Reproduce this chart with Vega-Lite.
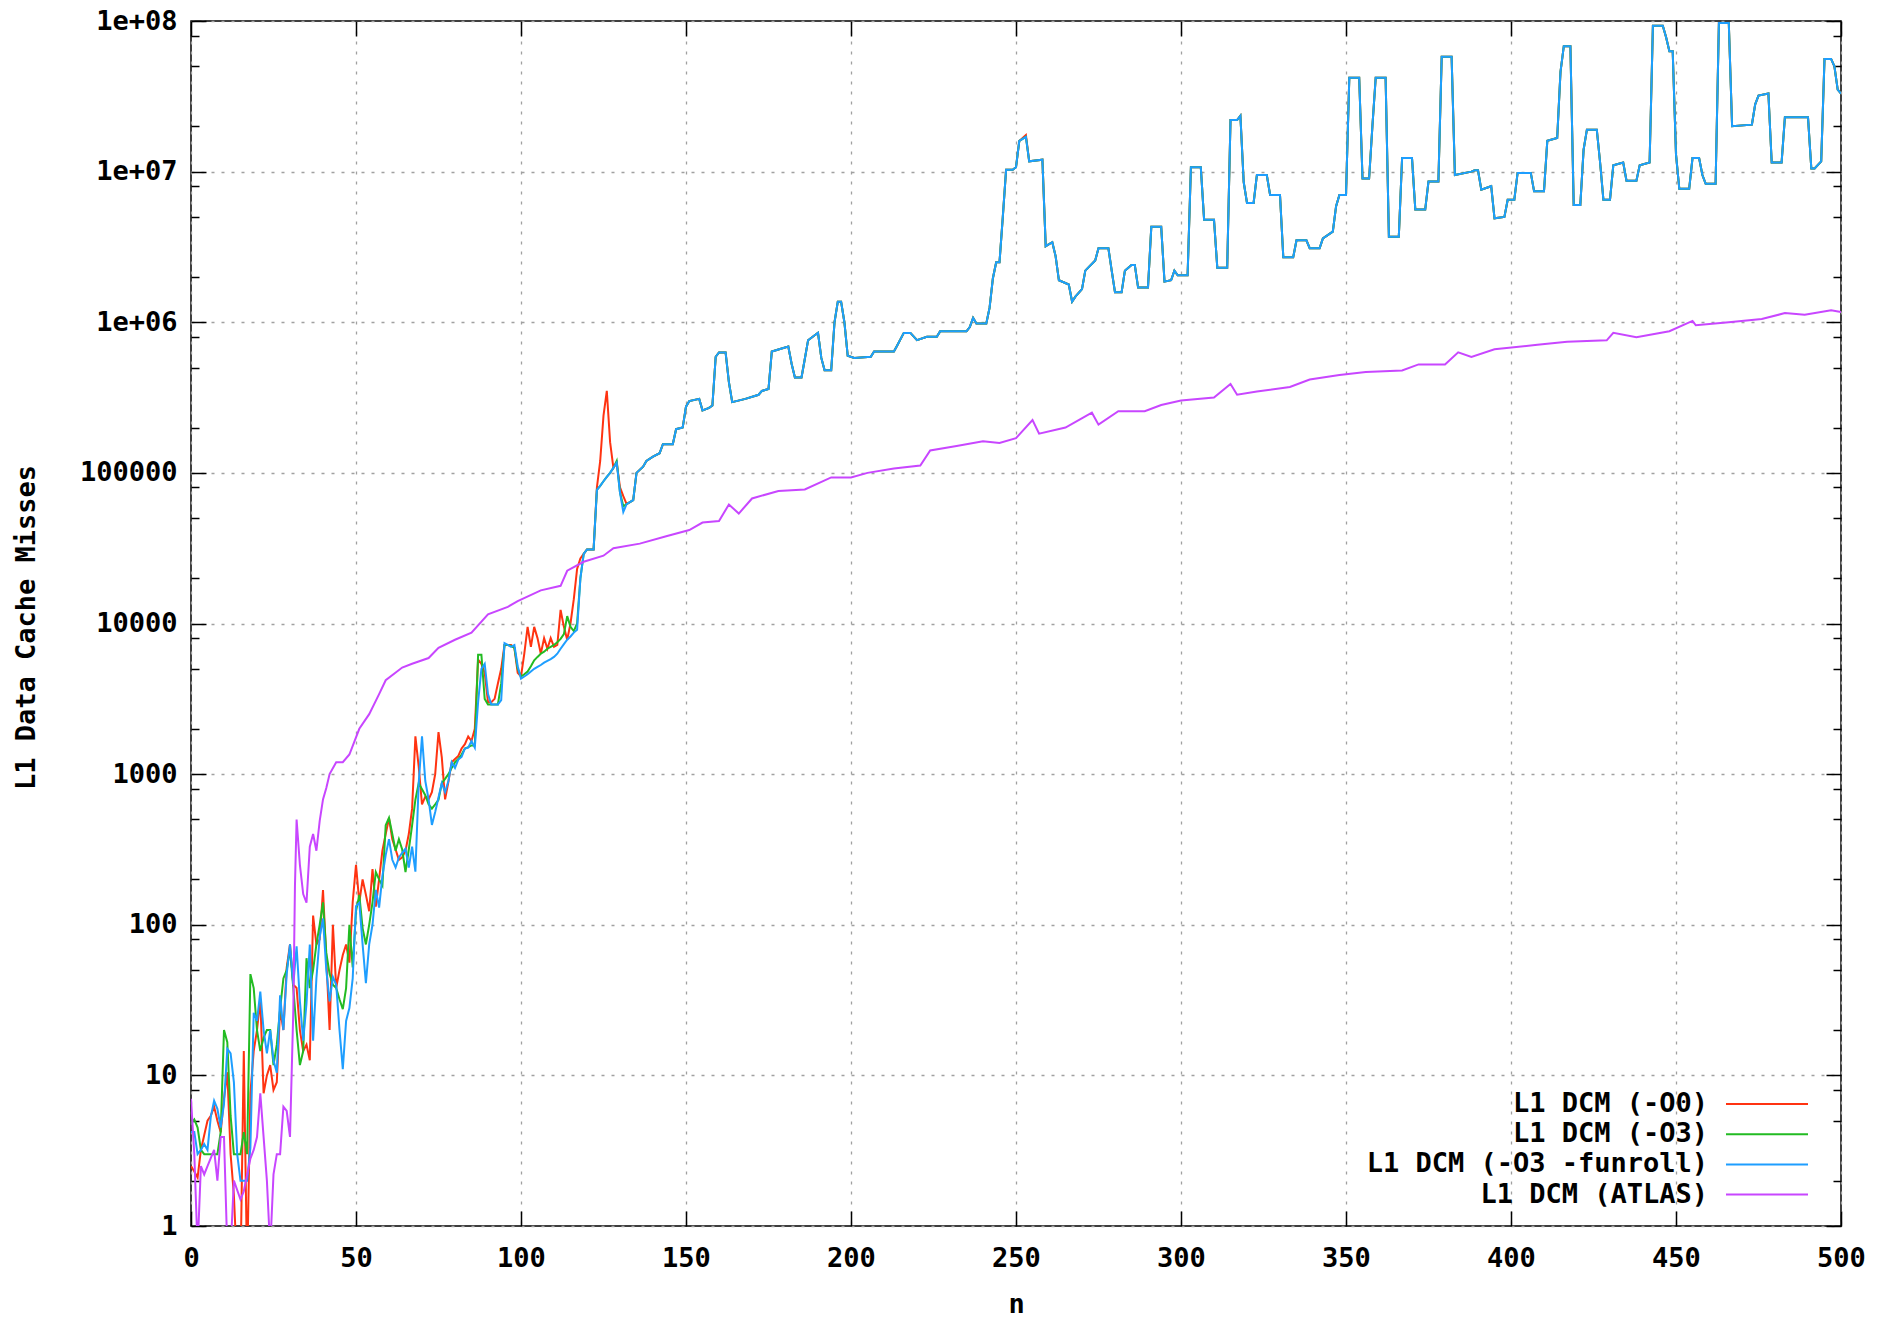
{
"$schema": "https://vega.github.io/schema/vega-lite/v6.json",
"width": 1650, "height": 1205,
"autosize": "none",
"padding": {"left": 191, "top": 21, "right": 38, "bottom": 91},
"background": "white",
"config": {"view": {"stroke": "black", "strokeWidth": 1.5}, "font": "DejaVu Sans Mono"},
"datasets": {
"main": [
{"n":0,"o0":2.5,"o3":4.8,"fu":4.2},{"n":1,"o0":2.3,"o3":5.1,"fu":4.2},{"n":2,"o0":2.1,"o3":4.5,"fu":3},{"n":3,"o0":3.2,"o3":3.2,"fu":3.2},{"n":4,"o0":4,"o3":3,"fu":3.5},{"n":5,"o0":5,"o3":3,"fu":3.2},{"n":6,"o0":5.4,"o3":3,"fu":5.3},{"n":7,"o0":6.2,"o3":3,"fu":6.8},{"n":8,"o0":5,"o3":3,"fu":6},{"n":9,"o0":4.2,"o3":4.2,"fu":4.5},
{"n":10,"o0":7,"o3":20,"fu":6.5},{"n":11,"o0":10.5,"o3":16.6,"fu":15},{"n":12,"o0":3,"o3":5.4,"fu":14},{"n":13,"o0":1.6,"o3":3,"fu":9},{"n":14,"o0":0.5,"o3":3,"fu":3},{"n":15,"o0":0.5,"o3":3,"fu":2},{"n":16,"o0":14.5,"o3":4.2,"fu":2},{"n":17,"o0":0.5,"o3":3,"fu":2},{"n":18,"o0":7.6,"o3":47,"fu":3.3},{"n":19,"o0":14.5,"o3":38,"fu":26},
{"n":20,"o0":20,"o3":20,"fu":23},{"n":21,"o0":32,"o3":14.5,"fu":36},{"n":22,"o0":7.6,"o3":17.8,"fu":20},{"n":23,"o0":10,"o3":20,"fu":14},{"n":24,"o0":11.7,"o3":20,"fu":20},{"n":25,"o0":8,"o3":11.7,"fu":12.6},{"n":26,"o0":9,"o3":16,"fu":10.4},{"n":27,"o0":27.5,"o3":27.5,"fu":34},{"n":28,"o0":20,"o3":44,"fu":20},{"n":29,"o0":52,"o3":50,"fu":47},
{"n":30,"o0":74,"o3":69,"fu":74},{"n":31,"o0":40,"o3":38,"fu":40},{"n":32,"o0":38,"o3":20,"fu":72},{"n":33,"o0":20,"o3":11.7,"fu":31},{"n":34,"o0":14.5,"o3":14.5,"fu":17},{"n":35,"o0":16,"o3":60,"fu":30},{"n":36,"o0":12.6,"o3":38,"fu":74},{"n":37,"o0":115,"o3":50,"fu":17},{"n":38,"o0":74,"o3":74,"fu":44},{"n":39,"o0":80,"o3":100,"fu":83},
{"n":40,"o0":170,"o3":141,"fu":110},{"n":41,"o0":60,"o3":65,"fu":50},{"n":42,"o0":20,"o3":47,"fu":31},{"n":43,"o0":100,"o3":40,"fu":45},{"n":44,"o0":38,"o3":38,"fu":40},{"n":45,"o0":50,"o3":32,"fu":20},{"n":46,"o0":63,"o3":27.5,"fu":11},{"n":47,"o0":74,"o3":38,"fu":23},{"n":48,"o0":56,"o3":100,"fu":28},{"n":49,"o0":141,"o3":52,"fu":44},
{"n":50,"o0":250,"o3":123,"fu":133},{"n":51,"o0":141,"o3":158,"fu":140},{"n":52,"o0":200,"o3":95,"fu":74},{"n":53,"o0":158,"o3":74,"fu":41},{"n":54,"o0":123,"o3":100,"fu":74},{"n":55,"o0":234,"o3":141,"fu":100},{"n":56,"o0":132,"o3":224,"fu":170},{"n":57,"o0":200,"o3":200,"fu":130},{"n":58,"o0":310,"o3":182,"fu":210},{"n":59,"o0":400,"o3":457,"fu":290},
{"n":60,"o0":510,"o3":513,"fu":370},{"n":61,"o0":370,"o3":400,"fu":270},{"n":62,"o0":316,"o3":310,"fu":240},{"n":63,"o0":270,"o3":370,"fu":280},{"n":64,"o0":280,"o3":316,"fu":300},{"n":65,"o0":310,"o3":224,"fu":320},{"n":66,"o0":400,"o3":316,"fu":240},{"n":67,"o0":590,"o3":457,"fu":330},{"n":68,"o0":1780,"o3":676,"fu":225},{"n":69,"o0":1120,"o3":870,"fu":870},
{"n":70,"o0":630,"o3":794,"fu":1780},{"n":71,"o0":710,"o3":724,"fu":900},{"n":72,"o0":680,"o3":630,"fu":680},{"n":73,"o0":760,"o3":590,"fu":460},{"n":74,"o0":1000,"o3":630,"fu":560},{"n":75,"o0":1900,"o3":676,"fu":700},{"n":76,"o0":1290,"o3":870,"fu":870},{"n":77,"o0":680,"o3":930,"fu":760},{"n":78,"o0":890,"o3":1000,"fu":900},{"n":79,"o0":1200,"o3":1100,"fu":1200},
{"n":80,"o0":1260,"o3":1200,"fu":1100},{"n":81,"o0":1320,"o3":1260,"fu":1250},{"n":82,"o0":1480,"o3":1350,"fu":1300},{"n":83,"o0":1580,"o3":1480,"fu":1480},{"n":84,"o0":1780,"o3":1510,"fu":1500},{"n":85,"o0":1660,"o3":1550,"fu":1660},{"n":86,"o0":2000,"o3":1550,"fu":1500},{"n":87,"o0":5750,"o3":6200,"fu":3000},{"n":88,"o0":5400,"o3":6200,"fu":5000},{"n":89,"o0":4700,"o3":3160,"fu":5400},
{"n":90,"o0":3000,"o3":2900,"fu":3400},{"n":91,"o0":3000,"o3":2900,"fu":2900},{"n":92,"o0":3160,"o3":2900,"fu":2900},{"n":93,"o0":4000,"o3":2900,"fu":2900},{"n":94,"o0":5000,"o3":4000,"fu":3100},{"n":95,"o0":7200,"o3":7200,"fu":7400},{"n":96,"o0":7200,"o3":7200,"fu":7200},{"n":97,"o0":7200,"o3":7100,"fu":7000},{"n":98,"o0":6900,"o3":6900,"fu":7200},{"n":99,"o0":4700,"o3":5000,"fu":5200},
{"n":100,"o0":4450,"o3":4450,"fu":4300},{"n":101,"o0":6300,"o3":4600,"fu":4450},{"n":102,"o0":9500,"o3":4800,"fu":4600},{"n":103,"o0":7000,"o3":5200,"fu":4800},{"n":104,"o0":9500,"o3":5700,"fu":5000},{"n":105,"o0":8000,"o3":6000,"fu":5150},{"n":106,"o0":6300,"o3":6300,"fu":5300},{"n":107,"o0":8000,"o3":6500,"fu":5500},{"n":108,"o0":6800,"o3":6800,"fu":5650},{"n":109,"o0":8000,"o3":7000,"fu":5800},
{"n":110,"o0":7000,"o3":7200,"fu":6000},{"n":111,"o0":7200,"o3":7500,"fu":6300},{"n":112,"o0":12300,"o3":7900,"fu":6800},{"n":113,"o0":9500,"o3":8500,"fu":7300},{"n":114,"o0":7800,"o3":11200,"fu":7800},{"n":115,"o0":10000,"o3":9500,"fu":8200},{"n":116,"o0":14500,"o3":8900,"fu":8700},{"n":117,"o0":23000,"o3":10000,"fu":9100},{"n":118,"o0":27000,"o3":20000,"fu":20000},{"n":119,"o0":29000,"o3":29000,"fu":29000},
{"n":120,"o0":31000,"o3":31000,"fu":31000},{"n":122,"o0":31000,"o3":31000,"fu":31000},{"n":123,"o0":80000,"o3":77000,"fu":77000},{"n":124,"o0":120000,"o3":82000,"fu":82000},{"n":125,"o0":240000,"o3":88000,"fu":88000},{"n":126,"o0":350000,"o3":94000,"fu":94000},{"n":127,"o0":160000,"o3":100000,"fu":100000},{"n":128,"o0":108000,"o3":108000,"fu":108000},{"n":129,"o0":117000,"o3":120000,"fu":117000},{"n":130,"o0":80000,"o3":74000,"fu":74000},
{"n":131,"o0":70000,"o3":60000,"fu":55000},{"n":132,"o0":62000,"o3":62000,"fu":62000},{"n":134,"o0":66000,"o3":66000,"fu":66000},{"n":135,"o0":100000,"o3":100000,"fu":100000},{"n":137,"o0":110000,"o3":110000,"fu":110000},{"n":138,"o0":120000,"o3":120000,"fu":120000},{"n":140,"o0":128000,"o3":128000,"fu":128000},{"n":142,"o0":135000,"o3":135000,"fu":135000},{"n":143,"o0":155000,"o3":155000,"fu":155000},{"n":146,"o0":155000,"o3":155000,"fu":155000},
{"n":147,"o0":195000,"o3":195000,"fu":195000},{"n":149,"o0":200000,"o3":200000,"fu":200000},{"n":150,"o0":275000,"o3":275000,"fu":275000},{"n":151,"o0":300000,"o3":300000,"fu":300000},{"n":154,"o0":310000,"o3":310000,"fu":310000},{"n":155,"o0":260000,"o3":260000,"fu":260000},{"n":157,"o0":270000,"o3":270000,"fu":270000},{"n":158,"o0":280000,"o3":280000,"fu":280000},{"n":159,"o0":590000,"o3":590000,"fu":590000},{"n":160,"o0":630000,"o3":630000,"fu":630000},
{"n":162,"o0":630000,"o3":630000,"fu":630000},{"n":163,"o0":400000,"o3":400000,"fu":400000},{"n":164,"o0":295000,"o3":295000,"fu":295000},{"n":168,"o0":310000,"o3":310000,"fu":310000},{"n":172,"o0":330000,"o3":330000,"fu":330000},{"n":173,"o0":350000,"o3":350000,"fu":350000},{"n":175,"o0":360000,"o3":360000,"fu":360000},{"n":176,"o0":640000,"o3":640000,"fu":640000},{"n":178,"o0":660000,"o3":660000,"fu":660000},{"n":181,"o0":690000,"o3":690000,"fu":690000},
{"n":182,"o0":530000,"o3":530000,"fu":530000},{"n":183,"o0":430000,"o3":430000,"fu":430000},{"n":185,"o0":430000,"o3":430000,"fu":430000},{"n":186,"o0":570000,"o3":570000,"fu":570000},{"n":187,"o0":760000,"o3":760000,"fu":760000},{"n":189,"o0":820000,"o3":820000,"fu":820000},{"n":190,"o0":850000,"o3":850000,"fu":850000},{"n":191,"o0":580000,"o3":580000,"fu":580000},{"n":192,"o0":480000,"o3":480000,"fu":480000},{"n":194,"o0":480000,"o3":480000,"fu":480000},
{"n":195,"o0":1000000,"o3":1000000,"fu":1000000},{"n":196,"o0":1370000,"o3":1370000,"fu":1370000},{"n":197,"o0":1370000,"o3":1370000,"fu":1370000},{"n":198,"o0":1000000,"o3":1000000,"fu":1000000},{"n":199,"o0":600000,"o3":600000,"fu":600000},{"n":201,"o0":580000,"o3":580000,"fu":580000},{"n":206,"o0":590000,"o3":590000,"fu":590000},{"n":207,"o0":640000,"o3":640000,"fu":640000},{"n":213,"o0":640000,"o3":640000,"fu":640000},{"n":214,"o0":700000,"o3":700000,"fu":700000},
{"n":216,"o0":850000,"o3":850000,"fu":850000},{"n":218,"o0":850000,"o3":850000,"fu":850000},{"n":220,"o0":760000,"o3":760000,"fu":760000},{"n":223,"o0":800000,"o3":800000,"fu":800000},{"n":226,"o0":800000,"o3":800000,"fu":800000},{"n":227,"o0":870000,"o3":870000,"fu":870000},{"n":235,"o0":870000,"o3":870000,"fu":870000},{"n":236,"o0":930000,"o3":930000,"fu":930000},{"n":237,"o0":1070000,"o3":1070000,"fu":1070000},{"n":238,"o0":980000,"o3":980000,"fu":980000},
{"n":241,"o0":980000,"o3":980000,"fu":980000},{"n":242,"o0":1250000,"o3":1250000,"fu":1250000},{"n":243,"o0":1960000,"o3":1960000,"fu":1960000},{"n":244,"o0":2500000,"o3":2500000,"fu":2500000},{"n":245,"o0":2500000,"o3":2500000,"fu":2500000},{"n":246,"o0":5000000,"o3":5000000,"fu":5000000},{"n":247,"o0":10300000,"o3":10300000,"fu":10300000},{"n":249,"o0":10300000,"o3":10300000,"fu":10300000},{"n":250,"o0":10700000,"o3":10700000,"fu":10700000},{"n":251,"o0":16000000,"o3":16000000,"fu":16000000},
{"n":253,"o0":17500000,"o3":17000000,"fu":17000000},{"n":254,"o0":11700000,"o3":11700000,"fu":11700000},{"n":258,"o0":12000000,"o3":12000000,"fu":12000000},{"n":259,"o0":3200000,"o3":3200000,"fu":3200000},{"n":261,"o0":3400000,"o3":3400000,"fu":3400000},{"n":262,"o0":2750000,"o3":2750000,"fu":2750000},{"n":263,"o0":1900000,"o3":1900000,"fu":1900000},{"n":266,"o0":1780000,"o3":1780000,"fu":1780000},{"n":267,"o0":1370000,"o3":1370000,"fu":1370000},{"n":268,"o0":1480000,"o3":1480000,"fu":1480000},
{"n":270,"o0":1660000,"o3":1660000,"fu":1660000},{"n":271,"o0":2200000,"o3":2200000,"fu":2200000},{"n":274,"o0":2570000,"o3":2570000,"fu":2570000},{"n":275,"o0":3100000,"o3":3100000,"fu":3100000},{"n":278,"o0":3100000,"o3":3100000,"fu":3100000},{"n":279,"o0":2200000,"o3":2200000,"fu":2200000},{"n":280,"o0":1580000,"o3":1580000,"fu":1580000},{"n":282,"o0":1580000,"o3":1580000,"fu":1580000},{"n":283,"o0":2200000,"o3":2200000,"fu":2200000},{"n":285,"o0":2400000,"o3":2400000,"fu":2400000},
{"n":286,"o0":2400000,"o3":2400000,"fu":2400000},{"n":287,"o0":1700000,"o3":1700000,"fu":1700000},{"n":290,"o0":1700000,"o3":1700000,"fu":1700000},{"n":291,"o0":4300000,"o3":4300000,"fu":4300000},{"n":294,"o0":4300000,"o3":4300000,"fu":4300000},{"n":295,"o0":1860000,"o3":1860000,"fu":1860000},{"n":297,"o0":1900000,"o3":1900000,"fu":1900000},{"n":298,"o0":2200000,"o3":2200000,"fu":2200000},{"n":299,"o0":2050000,"o3":2050000,"fu":2050000},{"n":302,"o0":2050000,"o3":2050000,"fu":2050000},
{"n":303,"o0":10700000,"o3":10700000,"fu":10700000},{"n":306,"o0":10700000,"o3":10700000,"fu":10700000},{"n":307,"o0":4800000,"o3":4800000,"fu":4800000},{"n":310,"o0":4800000,"o3":4800000,"fu":4800000},{"n":311,"o0":2300000,"o3":2300000,"fu":2300000},{"n":314,"o0":2300000,"o3":2300000,"fu":2300000},{"n":315,"o0":22000000,"o3":22000000,"fu":22000000},{"n":317,"o0":22000000,"o3":22000000,"fu":22000000},{"n":318,"o0":23500000,"o3":23500000,"fu":23500000},{"n":319,"o0":8500000,"o3":8500000,"fu":8500000},
{"n":320,"o0":6200000,"o3":6200000,"fu":6200000},{"n":322,"o0":6200000,"o3":6200000,"fu":6200000},{"n":323,"o0":9500000,"o3":9500000,"fu":9500000},{"n":326,"o0":9500000,"o3":9500000,"fu":9500000},{"n":327,"o0":7000000,"o3":7000000,"fu":7000000},{"n":330,"o0":7000000,"o3":7000000,"fu":7000000},{"n":331,"o0":2700000,"o3":2700000,"fu":2700000},{"n":334,"o0":2700000,"o3":2700000,"fu":2700000},{"n":335,"o0":3500000,"o3":3500000,"fu":3500000},{"n":338,"o0":3500000,"o3":3500000,"fu":3500000},
{"n":339,"o0":3100000,"o3":3100000,"fu":3100000},{"n":342,"o0":3100000,"o3":3100000,"fu":3100000},{"n":343,"o0":3600000,"o3":3600000,"fu":3600000},{"n":346,"o0":4000000,"o3":4000000,"fu":4000000},{"n":347,"o0":5900000,"o3":5900000,"fu":5900000},{"n":348,"o0":7000000,"o3":7000000,"fu":7000000},{"n":350,"o0":7000000,"o3":7000000,"fu":7000000},{"n":351,"o0":42000000,"o3":42000000,"fu":42000000},{"n":354,"o0":42000000,"o3":42000000,"fu":42000000},{"n":355,"o0":9000000,"o3":9000000,"fu":9000000},
{"n":357,"o0":9000000,"o3":9000000,"fu":9000000},{"n":358,"o0":20000000,"o3":20000000,"fu":20000000},{"n":359,"o0":42000000,"o3":42000000,"fu":42000000},{"n":362,"o0":42000000,"o3":42000000,"fu":42000000},{"n":363,"o0":3700000,"o3":3700000,"fu":3700000},{"n":366,"o0":3700000,"o3":3700000,"fu":3700000},{"n":367,"o0":12300000,"o3":12300000,"fu":12300000},{"n":370,"o0":12300000,"o3":12300000,"fu":12300000},{"n":371,"o0":5600000,"o3":5600000,"fu":5600000},{"n":374,"o0":5600000,"o3":5600000,"fu":5600000},
{"n":375,"o0":8600000,"o3":8600000,"fu":8600000},{"n":378,"o0":8600000,"o3":8600000,"fu":8600000},{"n":379,"o0":58000000,"o3":58000000,"fu":58000000},{"n":382,"o0":58000000,"o3":58000000,"fu":58000000},{"n":383,"o0":9500000,"o3":9500000,"fu":9500000},{"n":388,"o0":10000000,"o3":10000000,"fu":10000000},{"n":389,"o0":10200000,"o3":10200000,"fu":10200000},{"n":390,"o0":10200000,"o3":10200000,"fu":10200000},{"n":391,"o0":7600000,"o3":7600000,"fu":7600000},{"n":394,"o0":8000000,"o3":8000000,"fu":8000000},
{"n":395,"o0":4900000,"o3":4900000,"fu":4900000},{"n":398,"o0":5000000,"o3":5000000,"fu":5000000},{"n":399,"o0":6500000,"o3":6500000,"fu":6500000},{"n":401,"o0":6500000,"o3":6500000,"fu":6500000},{"n":402,"o0":9800000,"o3":9800000,"fu":9800000},{"n":406,"o0":9800000,"o3":9800000,"fu":9800000},{"n":407,"o0":7400000,"o3":7400000,"fu":7400000},{"n":410,"o0":7400000,"o3":7400000,"fu":7400000},{"n":411,"o0":16000000,"o3":16000000,"fu":16000000},{"n":414,"o0":16700000,"o3":16700000,"fu":16700000},
{"n":415,"o0":46000000,"o3":46000000,"fu":46000000},{"n":416,"o0":68000000,"o3":68000000,"fu":68000000},{"n":418,"o0":68000000,"o3":68000000,"fu":68000000},{"n":419,"o0":6000000,"o3":6000000,"fu":6000000},{"n":421,"o0":6000000,"o3":6000000,"fu":6000000},{"n":422,"o0":14000000,"o3":14000000,"fu":14000000},{"n":423,"o0":19000000,"o3":19000000,"fu":19000000},{"n":426,"o0":19000000,"o3":19000000,"fu":19000000},{"n":427,"o0":11500000,"o3":11500000,"fu":11500000},{"n":428,"o0":6500000,"o3":6500000,"fu":6500000},
{"n":430,"o0":6500000,"o3":6500000,"fu":6500000},{"n":431,"o0":11000000,"o3":11000000,"fu":11000000},{"n":434,"o0":11500000,"o3":11500000,"fu":11500000},{"n":435,"o0":8700000,"o3":8700000,"fu":8700000},{"n":438,"o0":8700000,"o3":8700000,"fu":8700000},{"n":439,"o0":11000000,"o3":11000000,"fu":11000000},{"n":442,"o0":11500000,"o3":11500000,"fu":11500000},{"n":443,"o0":93000000,"o3":93000000,"fu":93000000},{"n":446,"o0":93000000,"o3":93000000,"fu":93000000},{"n":447,"o0":78000000,"o3":78000000,"fu":78000000},
{"n":448,"o0":63000000,"o3":63000000,"fu":63000000},{"n":449,"o0":63000000,"o3":63000000,"fu":63000000},{"n":450,"o0":13000000,"o3":13000000,"fu":13000000},{"n":451,"o0":7700000,"o3":7700000,"fu":7700000},{"n":454,"o0":7700000,"o3":7700000,"fu":7700000},{"n":455,"o0":12300000,"o3":12300000,"fu":12300000},{"n":457,"o0":12300000,"o3":12300000,"fu":12300000},{"n":458,"o0":9500000,"o3":9500000,"fu":9500000},{"n":459,"o0":8300000,"o3":8300000,"fu":8300000},{"n":462,"o0":8300000,"o3":8300000,"fu":8300000},
{"n":463,"o0":97000000,"o3":97000000,"fu":97000000},{"n":466,"o0":97000000,"o3":97000000,"fu":97000000},{"n":467,"o0":20000000,"o3":20000000,"fu":20000000},{"n":473,"o0":20500000,"o3":20500000,"fu":20500000},{"n":474,"o0":28000000,"o3":28000000,"fu":28000000},{"n":475,"o0":32000000,"o3":32000000,"fu":32000000},{"n":478,"o0":33000000,"o3":33000000,"fu":33000000},{"n":479,"o0":11500000,"o3":11500000,"fu":11500000},{"n":482,"o0":11500000,"o3":11500000,"fu":11500000},{"n":483,"o0":23000000,"o3":23000000,"fu":23000000},
{"n":490,"o0":23000000,"o3":23000000,"fu":23000000},{"n":491,"o0":10500000,"o3":10500000,"fu":10500000},{"n":492,"o0":10500000,"o3":10500000,"fu":10500000},{"n":494,"o0":11700000,"o3":11700000,"fu":11700000},{"n":495,"o0":56000000,"o3":56000000,"fu":56000000},{"n":497,"o0":56000000,"o3":56000000,"fu":56000000},{"n":498,"o0":50000000,"o3":50000000,"fu":50000000},{"n":499,"o0":35000000,"o3":35000000,"fu":35000000},{"n":500,"o0":33000000,"o3":33000000,"fu":33000000}
],
"atlas": [
{"n":0,"atlas":7},{"n":1,"atlas":3},{"n":2,"atlas":0.7},{"n":3,"atlas":2.5},{"n":4,"atlas":2.2},{"n":5,"atlas":2.5},{"n":7,"atlas":3.2},{"n":8,"atlas":2},{"n":9,"atlas":3.9},{"n":10,"atlas":3.9},{"n":11,"atlas":0.7},{"n":12,"atlas":0.7},{"n":13,"atlas":2},{"n":15,"atlas":1.5},{"n":16,"atlas":1.7},{"n":18,"atlas":2.8},{"n":19,"atlas":3.2},{"n":20,"atlas":3.9},{"n":21,"atlas":7.6},{"n":23,"atlas":2},{"n":24,"atlas":0.7},{"n":25,"atlas":2.2},{"n":26,"atlas":3},{"n":27,"atlas":3},{"n":28,"atlas":6.2},{"n":29,"atlas":5.8},{"n":30,"atlas":3.9},{"n":31,"atlas":27},{"n":31.5,"atlas":180},{"n":32,"atlas":500},{"n":33,"atlas":250},{"n":34,"atlas":160},{"n":35,"atlas":140},{"n":36,"atlas":330},{"n":37,"atlas":400},{"n":38,"atlas":310},{"n":39,"atlas":490},{"n":40,"atlas":680},{"n":41,"atlas":810},{"n":42,"atlas":1000},{"n":44,"atlas":1200},{"n":46,"atlas":1200},{"n":48,"atlas":1350},{"n":51,"atlas":2000},{"n":54,"atlas":2500},{"n":57,"atlas":3400},{"n":59,"atlas":4200},{"n":64,"atlas":5100},{"n":67,"atlas":5400},{"n":72,"atlas":5900},{"n":75,"atlas":6900},{"n":80,"atlas":7800},{"n":85,"atlas":8700},{"n":90,"atlas":11500},{"n":96,"atlas":12900},{"n":99,"atlas":14100},{"n":106,"atlas":16600},{"n":112,"atlas":17800},{"n":114,"atlas":22400},{"n":119,"atlas":25700},{"n":125,"atlas":28200},{"n":128,"atlas":31600},{"n":136,"atlas":33900},{"n":144,"atlas":38000},{"n":151,"atlas":41700},{"n":155,"atlas":46800},{"n":160,"atlas":47900},{"n":163,"atlas":61700},{"n":166,"atlas":53700},{"n":170,"atlas":67600},{"n":178,"atlas":75900},{"n":186,"atlas":77600},{"n":194,"atlas":93300},{"n":200,"atlas":93300},{"n":205,"atlas":100000},{"n":213,"atlas":107000},{"n":221,"atlas":112000},{"n":224,"atlas":141000},{"n":232,"atlas":151000},{"n":240,"atlas":162000},{"n":245,"atlas":158000},{"n":250,"atlas":170000},{"n":255,"atlas":224000},{"n":257,"atlas":182000},{"n":265,"atlas":200000},{"n":273,"atlas":251000},{"n":275,"atlas":209000},{"n":281,"atlas":257000},{"n":289,"atlas":257000},{"n":294,"atlas":282000},{"n":300,"atlas":302000},{"n":310,"atlas":316000},{"n":315,"atlas":389000},{"n":317,"atlas":330000},{"n":323,"atlas":347000},{"n":333,"atlas":372000},{"n":339,"atlas":417000},{"n":348,"atlas":447000},{"n":356,"atlas":468000},{"n":367,"atlas":479000},{"n":372,"atlas":525000},{"n":380,"atlas":525000},{"n":384,"atlas":631000},{"n":388,"atlas":589000},{"n":395,"atlas":661000},{"n":408,"atlas":708000},{"n":417,"atlas":741000},{"n":429,"atlas":759000},{"n":431,"atlas":851000},{"n":438,"atlas":794000},{"n":448,"atlas":871000},{"n":455,"atlas":1020000},{"n":456,"atlas":955000},{"n":466,"atlas":1000000},{"n":476,"atlas":1050000},{"n":483,"atlas":1150000},{"n":489,"atlas":1120000},{"n":497,"atlas":1200000},{"n":500,"atlas":1170000}
]
},
"encoding": {
 "x": {"field": "n", "type": "quantitative", "scale": {"domain": [0, 500], "nice": false, "zero": false}, "axis": null},
 "y": {"field": "v", "type": "quantitative", "scale": {"type": "log", "domain": [1, 100000000], "nice": false}, "axis": null},
 "color": {"field": "series", "type": "nominal",
   "scale": {"domain": ["o0", "o3", "fu", "atlas"], "range": ["#ff3311", "#22bb22", "#1e9eff", "#c846ff"]},
   "legend": {"orient": "none", "legendX": 1560, "legendY": 1067, "title": null, "symbolType": "M-2.7333,0H2.7333", "symbolSize": 900, "symbolStrokeWidth": 2, "labelAlign": "right", "labelOffset": -75, "labelLimit": 800, "labelFontSize": 27, "labelFont": "DejaVu Sans Mono", "labelFontWeight": "bold", "labelColor": "black", "rowPadding": 1.2,
     "labelExpr": "datum.value=='o0'?'L1 DCM (-O0)':datum.value=='o3'?'L1 DCM (-O3)':datum.value=='fu'?'L1 DCM (-O3 -funroll)':'L1 DCM (ATLAS)'"}}
},
"resolve": {"axis": {"x": "independent", "y": "independent"}},
"layer": [
 {"data": {"name": "main"}, "transform": [{"fold": ["o0"], "as": ["series", "v"]}],
  "mark": {"type": "line", "strokeWidth": 2, "clip": true},
  "encoding": {
   "x": {"field": "n", "type": "quantitative", "scale": {"domain": [0, 500], "nice": false, "zero": false},
     "axis": {"orient": "bottom", "values": [0,50,100,150,200,250,300,350,400,450,500], "title": "n", "titleFont": "DejaVu Sans Mono", "titleFontSize": 27, "titleFontWeight": "bold", "titleX": 825, "titleY": 78, "titleBaseline": "middle", "labelFont": "DejaVu Sans Mono", "labelFontSize": 27, "labelFontWeight": "bold", "labelColor": "black", "labelPadding": 34, "tickSize": -15, "tickColor": "black", "tickWidth": 1.5, "domain": false, "grid": true, "gridColor": "#a0a0a0", "gridDash": [3, 7], "gridWidth": 1.3, "labelFlush": false}},
   "y": {"field": "v", "type": "quantitative", "scale": {"type": "log", "domain": [1, 100000000], "nice": false},
     "axis": {"orient": "left", "values": [1,2,5,8,10,20,50,80,100,200,500,800,1000,2000,5000,8000,10000,20000,50000,80000,100000,200000,500000,800000,1000000,2000000,5000000,8000000,10000000,20000000,50000000,80000000,100000000],
       "labelExpr": "datum.value==1?'1':datum.value==10?'10':datum.value==100?'100':datum.value==1000?'1000':datum.value==10000?'10000':datum.value==100000?'100000':datum.value==1000000?'1e+06':datum.value==10000000?'1e+07':datum.value==100000000?'1e+08':''",
       "title": "L1 Data Cache Misses", "titleFont": "DejaVu Sans Mono", "titleFontSize": 27, "titleFontWeight": "bold", "titleX": -165, "titleY": 606, "titleAngle": -90, "titleAlign": "center", "titleBaseline": "middle",
       "labelFont": "DejaVu Sans Mono", "labelFontSize": 27, "labelFontWeight": "bold", "labelColor": "black", "labelPadding": 29, "labelFlush": false,
       "tickSize": {"condition": {"test": "indexof([1,10,100,1000,10000,100000,1000000,10000000,100000000], datum.value) >= 0", "value": -15}, "value": -8},
       "tickColor": "black", "tickWidth": 1.5, "domain": false, "grid": true, "gridColor": "#a0a0a0", "gridDash": [3, 7], "gridWidth": 1.3,
       "gridOpacity": {"condition": {"test": "indexof([1,10,100,1000,10000,100000,1000000,10000000,100000000], datum.value) >= 0", "value": 1}, "value": 0}}}
  }},
 {"data": {"name": "main"}, "transform": [{"fold": ["o3"], "as": ["series", "v"]}],
  "mark": {"type": "line", "strokeWidth": 2, "clip": true}},
 {"data": {"name": "main"}, "transform": [{"fold": ["fu"], "as": ["series", "v"]}],
  "mark": {"type": "line", "strokeWidth": 2, "clip": true}},
 {"data": {"name": "atlas"}, "transform": [{"fold": ["atlas"], "as": ["series", "v"]}],
  "mark": {"type": "line", "strokeWidth": 2, "clip": true},
  "encoding": {
   "x": {"field": "n", "type": "quantitative", "scale": {"domain": [0, 500], "nice": false, "zero": false},
     "axis": {"orient": "top", "values": [0,50,100,150,200,250,300,350,400,450,500], "labels": false, "title": null, "tickSize": -15, "tickColor": "black", "tickWidth": 1.5, "domain": false, "grid": false}},
   "y": {"field": "v", "type": "quantitative", "scale": {"type": "log", "domain": [1, 100000000], "nice": false},
     "axis": {"orient": "right", "values": [1,2,5,8,10,20,50,80,100,200,500,800,1000,2000,5000,8000,10000,20000,50000,80000,100000,200000,500000,800000,1000000,2000000,5000000,8000000,10000000,20000000,50000000,80000000,100000000], "labels": false, "title": null,
       "tickSize": {"condition": {"test": "indexof([1,10,100,1000,10000,100000,1000000,10000000,100000000], datum.value) >= 0", "value": -15}, "value": -8},
       "tickColor": "black", "tickWidth": 1.5, "domain": false, "grid": false}}
  }}
]
}
